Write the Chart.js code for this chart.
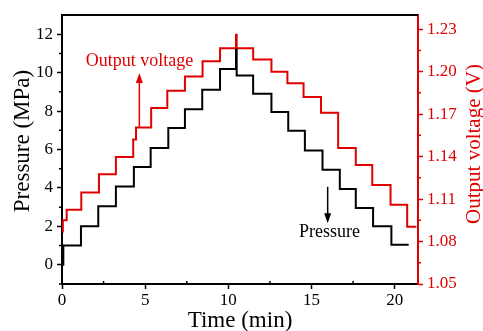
<!DOCTYPE html>
<html>
<head>
<meta charset="utf-8">
<title>Pressure and output voltage</title>
<script src="https://cdn.jsdelivr.net/npm/chart.js@4.4.1/dist/chart.umd.min.js"></script>
<style>
  html, body { margin: 0; padding: 0; background: #fff; }
</style>
</head>
<body>
<canvas id="pressureChart" width="483" height="331"></canvas>
<script>
// Step data: each level holds from its time until the next time (min)
const pressureTime = [0, 0.08, 1.14, 2.18, 3.24, 4.32, 5.33, 6.39, 7.39, 8.43, 9.5, 10.46, 10.5,
  11.49, 12.59, 13.6, 14.6, 15.66, 16.7, 17.66, 18.7, 19.8, 20.84];
const pressureValue = [0, 1.0, 2.0, 3.04, 4.08, 5.09, 6.08, 7.12, 8.1, 9.11, 10.19, 11.2, 9.85,
  8.9, 7.95, 6.98, 5.95, 4.95, 3.94, 2.95, 2.0, 1.04, 1.04];

const voltageTime = [0, 0.05, 0.28, 1.16, 2.22, 3.24, 4.28, 4.45, 5.36, 6.33, 7.39, 8.45, 9.5, 10.46, 10.5,
  11.49, 12.59, 13.55, 14.52, 15.57, 16.6, 17.66, 18.65, 19.75, 20.75, 21.3];
const voltageValue = [1.087, 1.095, 1.1025, 1.1146, 1.1276, 1.1397, 1.152, 1.1605, 1.1743, 1.1865, 1.1965, 1.2073, 1.2165, 1.226, 1.2165,
  1.2085, 1.2, 1.1918, 1.182, 1.171, 1.146, 1.134, 1.12, 1.106, 1.0905, 1.0905];

// Axis ticks
const timeTicks = [0, 5, 10, 15, 20];
const timeMinorTicks = [2.5, 7.5, 12.5, 17.5];
const pressureTicks = [0, 2, 4, 6, 8, 10, 12];
const pressureMinorTicks = [-1, 1, 3, 5, 7, 9, 11];
const voltageTicks = [1.05, 1.08, 1.11, 1.14, 1.17, 1.20, 1.23];
const voltageMinorTicks = [1.065, 1.095, 1.125, 1.155, 1.185, 1.215];

// Annotations in data units [time, pressure]
const voltageLabel = { text: "Output voltage", at: [4.66, 10.35], arrowFrom: [4.65, 7.12], arrowTo: [4.65, 9.98] };
const pressureLabel = { text: "Pressure", at: [16.08, 1.46], arrowFrom: [15.97, 4.06], arrowTo: [15.97, 2.16] };

const RED = "#e00000";
const FONT = "'Liberation Serif', 'Times New Roman', serif";

function fixedTicks(values) {
  return function (scale) {
    scale.ticks = values.map((v) => ({ value: v }));
  };
}

function drawArrow(ctx, x1, y1, x2, y2, color) {
  const dir = Math.sign(y2 - y1);
  ctx.strokeStyle = color;
  ctx.fillStyle = color;
  ctx.lineWidth = 1.5;
  ctx.beginPath();
  ctx.moveTo(x1, y1);
  ctx.lineTo(x2, y2 - dir * 6);
  ctx.stroke();
  ctx.beginPath();
  ctx.moveTo(x2, y2);
  ctx.lineTo(x2 - 3.5, y2 - dir * 10);
  ctx.lineTo(x2 + 3.5, y2 - dir * 10);
  ctx.closePath();
  ctx.fill();
}

const extrasPlugin = {
  id: "extras",
  afterDraw(chart) {
    const { ctx, chartArea: a, scales } = chart;
    const x = scales.x, yP = scales.yP, yV = scales.yV;
    ctx.save();

    // top frame line
    ctx.strokeStyle = "#000";
    ctx.lineWidth = 2;
    ctx.beginPath();
    ctx.moveTo(a.left - 1, a.top);
    ctx.lineTo(a.right, a.top);
    ctx.stroke();

    // minor ticks
    ctx.lineWidth = 1.5;
    ctx.beginPath();
    pressureMinorTicks.forEach((v) => {
      const py = yP.getPixelForValue(v);
      ctx.moveTo(a.left - 3, py);
      ctx.lineTo(a.left, py);
    });
    timeMinorTicks.forEach((v) => {
      const px = x.getPixelForValue(v);
      ctx.moveTo(px, a.bottom);
      ctx.lineTo(px, a.bottom - 3);
    });
    ctx.stroke();
    ctx.strokeStyle = RED;
    ctx.beginPath();
    voltageMinorTicks.forEach((v) => {
      const py = yV.getPixelForValue(v);
      ctx.moveTo(a.right, py);
      ctx.lineTo(a.right + 3, py);
    });
    ctx.stroke();

    // axis titles
    ctx.fillStyle = "#000";
    ctx.font = "23px " + FONT;
    ctx.textAlign = "center";
    ctx.textBaseline = "alphabetic";
    ctx.fillText("Time (min)", (a.left + a.right) / 2, 327);

    ctx.save();
    ctx.translate(28.5, 141);
    ctx.rotate(-Math.PI / 2);
    ctx.fillText("Pressure (MPa)", 0, 0);
    ctx.restore();

    ctx.save();
    ctx.fillStyle = RED;
    ctx.font = "21px " + FONT;
    ctx.translate(480, 144);
    ctx.rotate(-Math.PI / 2);
    ctx.fillText("Output voltage (V)", 0, 0);
    ctx.restore();

    // annotations with arrows
    ctx.font = "18px " + FONT;
    ctx.fillStyle = RED;
    ctx.fillText(voltageLabel.text, x.getPixelForValue(voltageLabel.at[0]), yP.getPixelForValue(voltageLabel.at[1]));
    drawArrow(ctx,
      x.getPixelForValue(voltageLabel.arrowFrom[0]), yP.getPixelForValue(voltageLabel.arrowFrom[1]),
      x.getPixelForValue(voltageLabel.arrowTo[0]), yP.getPixelForValue(voltageLabel.arrowTo[1]), RED);

    ctx.fillStyle = "#000";
    ctx.fillText(pressureLabel.text, x.getPixelForValue(pressureLabel.at[0]), yP.getPixelForValue(pressureLabel.at[1]));
    drawArrow(ctx,
      x.getPixelForValue(pressureLabel.arrowFrom[0]), yP.getPixelForValue(pressureLabel.arrowFrom[1]),
      x.getPixelForValue(pressureLabel.arrowTo[0]), yP.getPixelForValue(pressureLabel.arrowTo[1]), "#000");

    ctx.restore();
  },
};

const ctx = document.getElementById("pressureChart").getContext("2d");
const chart = new Chart(ctx, {
  type: "line",
  data: {
    datasets: [
      {
        label: "Pressure",
        data: pressureTime.map((t, i) => ({ x: t, y: pressureValue[i] })),
        yAxisID: "yP",
        borderColor: "#000",
        borderWidth: 2,
        stepped: "before",
        pointRadius: 0,
        fill: false,
      },
      {
        label: "Output voltage",
        data: voltageTime.map((t, i) => ({ x: t, y: voltageValue[i] })),
        yAxisID: "yV",
        borderColor: RED,
        borderWidth: 2,
        stepped: "before",
        pointRadius: 0,
        fill: false,
      },
    ],
  },
  options: {
    responsive: false,
    animation: false,
    layout: { padding: { top: 15, left: 0, right: 0, bottom: 0 } },
    plugins: {
      legend: { display: false },
      tooltip: { enabled: false },
    },
    scales: {
      x: {
        type: "linear",
        min: 0,
        max: 21.4,
        afterBuildTicks: fixedTicks(timeTicks),
        afterFit: (s) => { s.height = 47; },
        ticks: { color: "#000", font: { family: FONT, size: 17 }, padding: 1, maxRotation: 0 },
        grid: { drawOnChartArea: false, tickLength: 5, tickColor: "#000", tickWidth: 1.5 },
        border: { color: "#000", width: 2 },
      },
      yP: {
        type: "linear",
        position: "left",
        min: -1,
        max: 13,
        afterBuildTicks: fixedTicks(pressureTicks),
        afterFit: (s) => { s.width = 62; },
        ticks: { color: "#000", font: { family: FONT, size: 17 }, padding: 4 },
        grid: { drawOnChartArea: false, tickLength: 5, tickColor: "#000", tickWidth: 1.5 },
        border: { color: "#000", width: 2 },
      },
      yV: {
        type: "linear",
        position: "right",
        min: 1.05,
        max: 1.24,
        afterBuildTicks: fixedTicks(voltageTicks),
        afterFit: (s) => { s.width = 65; },
        ticks: {
          color: RED,
          font: { family: FONT, size: 17 },
          padding: 4,
          callback: (v) => v.toFixed(2),
        },
        grid: { drawOnChartArea: false, tickLength: 5, tickColor: RED, tickWidth: 1.5 },
        border: { color: RED, width: 2 },
      },
    },
  },
  plugins: [extrasPlugin],
});
</script>
</body>
</html>
